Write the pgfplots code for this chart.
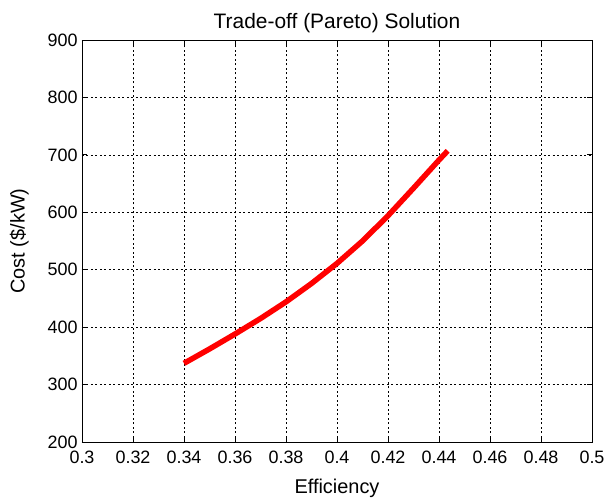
\documentclass[border=0pt]{standalone}
\usepackage{pgfplots}
\pgfplotsset{compat=1.18}
\usepackage{fontspec}
\setmainfont{Liberation Sans}
\begin{document}
\begin{tikzpicture}
\useasboundingbox (-82bp,-58bp) rectangle (525bp,442bp);
\begin{axis}[
  at={(0,0)}, anchor=south west,
  scale only axis, width=510bp, height=402bp,
  xmin=0.3, xmax=0.5, ymin=200, ymax=900,
  xtick={0.3,0.32,...,0.5},
  ytick={200,300,...,900},
  xticklabels={0.3,0.32,0.34,0.36,0.38,0.4,0.42,0.44,0.46,0.48,0.5},
  /pgf/number format/assume math mode=true,
  tick label style={font=\fontsize{18}{20}\selectfont},
  label style={font=\fontsize{20}{22}\selectfont},
  title style={font=\fontsize{21}{24}\selectfont, yshift=-2bp},
  title={Trade-off (Pareto) Solution},
  xlabel={Efficiency},
  ylabel={Cost (\$/kW)},
  xlabel style={yshift=-9bp},
  ylabel style={yshift=12bp},
  xticklabel style={yshift=-5bp},
  yticklabel style={xshift=-1bp},
  grid=major,
  major grid style={black, line width=0.7pt, dash pattern=on 2pt off 2.5pt},
  axis line style={black, line width=0.9pt},
  tick style={black, line width=0.8pt},
  tick align=inside,
  major tick length=5bp,
]
\addplot[red, line width=5.5pt, line join=round] coordinates {
(0.340,337) (0.350,362) (0.360,388) (0.370,415) (0.380,444) (0.390,476)
(0.400,511) (0.410,550) (0.420,594) (0.430,642) (0.440,691) (0.4434,707)
};
\end{axis}
\end{tikzpicture}
\end{document}
